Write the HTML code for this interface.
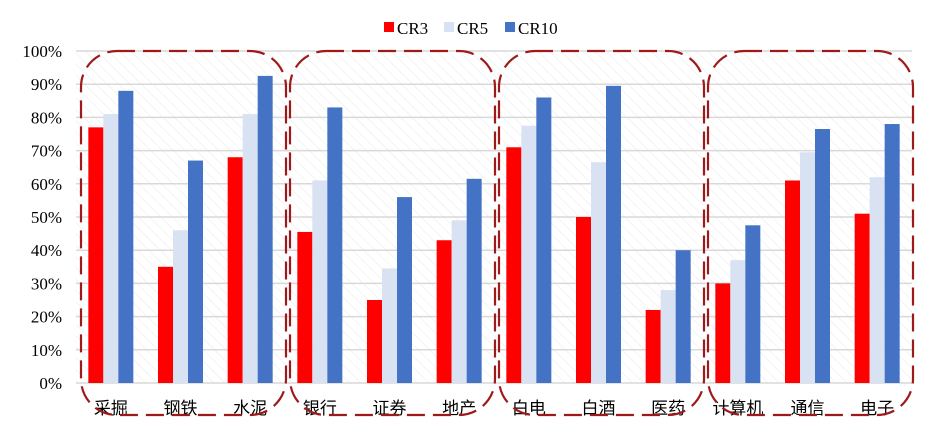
<!DOCTYPE html>
<html><head><meta charset="utf-8"><style>
body{margin:0;background:#fff;}
svg{display:block;font-family:"Liberation Serif","Noto Serif CJK SC","Noto Sans CJK SC",serif;}
</style></head><body>
<svg id="chart" width="936" height="432" viewBox="0 0 936 432">
<defs>
<pattern id="hatch" width="8" height="8" patternUnits="userSpaceOnUse" patternTransform="rotate(-45)">
<rect width="8" height="8" fill="#fff"/><line x1="0" y1="0" x2="0" y2="8" stroke="#ececec" stroke-width="1.2"/>
</pattern>
</defs>
<rect x="76" y="51" width="836" height="332" fill="url(#hatch)"/>
<g id="grid"></g><g id="bars"></g><g id="labels"></g><g id="boxes"></g>
<g>
<rect x="384" y="22" width="10" height="10" fill="#ff0000"/>
<text x="397" y="34" font-size="17">CR3</text>
<rect x="444" y="22" width="10" height="10" fill="#d9e2f3"/>
<text x="457" y="34" font-size="17">CR5</text>
<rect x="505" y="22" width="10" height="10" fill="#4472c4"/>
<text x="518" y="34" font-size="17">CR10</text>
</g>
</svg>
<script>
const categories=["采掘","钢铁","水泥","银行","证券","地产","白电","白酒","医药","计算机","通信","电子"];
const cr3=[77,35,68,45.5,25,43,71,50,22,30,61,51];
const cr5=[81,46,81,61,34.5,49,77.5,66.5,28,37,69.5,62];
const cr10=[88,67,92.5,83,56,61.5,86,89.5,40,47.5,76.5,78];
const yTicks=[0,10,20,30,40,50,60,70,80,90,100];
const NS="http://www.w3.org/2000/svg";
const X0=76,X1=912,Y0=383,Y1=51;
const cw=(X1-X0)/categories.length;
const y=v=>Y0-(v/100)*(Y0-Y1);
const xc=i=>X0+cw*(i+0.5);
function mk(t,a,p){const e=document.createElementNS(NS,t);for(const k in a)e.setAttribute(k,a[k]);p.appendChild(e);return e;}
const grid=document.getElementById('grid'),bars=document.getElementById('bars'),labels=document.getElementById('labels'),boxes=document.getElementById('boxes');
yTicks.forEach(v=>{
 const l=mk('line',{x1:X0,x2:X1,y1:y(v),y2:y(v),stroke:'#d9d9d9','stroke-width':1.5},grid);
 
 
 const t=mk('text',{x:62,y:y(v)+6,'text-anchor':'end','font-size':17},labels);
 t.textContent=v+'%';
 
 
});
const series=[[cr3,'#ff0000','cr3'],[cr5,'#d9e2f3','cr5'],[cr10,'#4472c4','cr10']];
const bw=15;
categories.forEach((c,i)=>{
 series.forEach((s,j)=>{
  const v=s[0][i];
  const r=mk('rect',{x:xc(i)-bw*1.5+j*bw,y:y(v),width:bw,height:Y0-y(v),fill:s[1]},bars);
  
  
 });
 const t=mk('text',{x:xc(i),y:414,'text-anchor':'middle','font-size':17,'font-family':'"Noto Sans CJK SC",sans-serif'},labels);
 t.textContent=c;
 
 
});
for(let g=0;g<4;g++){
 const bx=X0+cw*3*g+5,bw2=cw*3-4;
 const r=mk('rect',{x:bx,y:51,width:bw2,height:364,rx:36,ry:36,fill:'none',stroke:'#9e1a1a','stroke-width':2.2,'stroke-dasharray':'18 8'},boxes);
 
 
}
</script>
</body></html>
